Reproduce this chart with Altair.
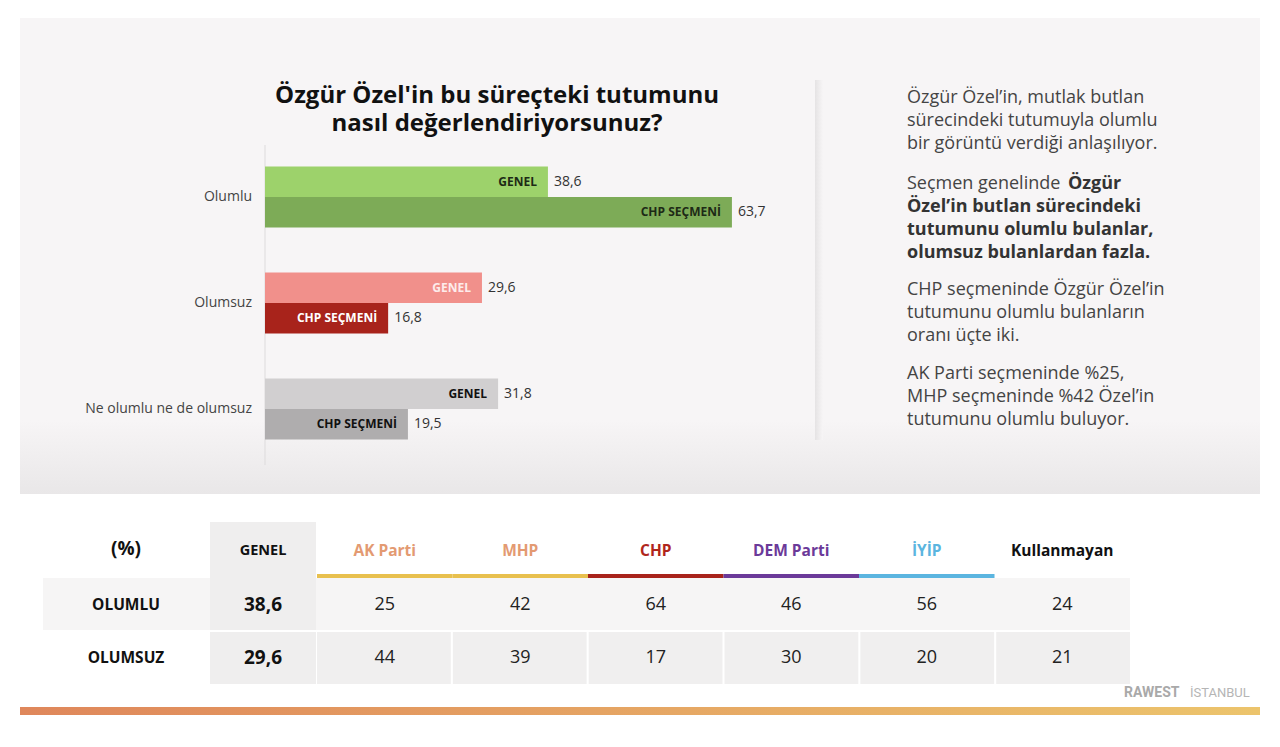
import altair as alt
import pandas as pd

# ---------------- data ----------------
categories = ["Olumlu", "Olumsuz", "Ne olumlu ne de olumsuz"]
series = ["GENEL", "CHP SEÇMENİ"]
genel_vals = [38.6, 29.6, 31.8]
chp_vals = [63.7, 16.8, 19.5]

parties = ["AK Parti", "MHP", "CHP", "DEM Parti", "İYİP", "Kullanmayan"]
table_rows = ["OLUMLU", "OLUMSUZ"]
genel_row = [38.6, 29.6]
olumlu_party = [25, 42, 64, 46, 56, 24]
olumsuz_party = [44, 39, 17, 30, 20, 21]

title_lines = ["Özgür Özel'in bu süreçteki tutumunu", "nasıl değerlendiriyorsunuz?"]
p1_lines = ["Özgür Özel’in, mutlak butlan", "sürecindeki tutumuyla olumlu", "bir görüntü verdiği anlaşılıyor."]
p2_first_regular = "Seçmen genelinde"
p2_first_bold = "Özgür"
p2_bold_lines = ["Özel’in butlan sürecindeki", "tutumunu olumlu bulanlar,", "olumsuz bulanlardan fazla."]
p3_lines = ["CHP seçmeninde Özgür Özel’in", "tutumunu olumlu bulanların", "oranı üçte iki."]
p4_lines = ["AK Parti seçmeninde %25,", "MHP seçmeninde %42 Özel’in", "tutumunu olumlu buluyor."]

FONT = "Open Sans"


def fmt(v):
    return f"{v:.1f}".replace(".", ",")


# ---------------- frames ----------------
bar_records = []
for c, g, h in zip(categories, genel_vals, chp_vals):
    bar_records.append(dict(cat=c, series=series[0], value=g))
    bar_records.append(dict(cat=c, series=series[1], value=h))
bars_df = pd.DataFrame(bar_records)
bars_df["key"] = bars_df["cat"] + "|" + bars_df["series"]
bars_df["label"] = bars_df["value"].map(fmt)
keys = list(bars_df["key"])

cat_df = pd.DataFrame({"cat": categories})

tab_records = []
for r, vals in zip(table_rows, [olumlu_party, olumsuz_party]):
    for p, v in zip(parties, vals):
        tab_records.append(dict(row=r, party=p, value=v, label=str(v)))
tab_df = pd.DataFrame(tab_records)
genel_df = pd.DataFrame({"row": table_rows, "value": genel_row})
genel_df["label"] = genel_df["value"].map(fmt)
party_df = pd.DataFrame({"party": parties})
one = pd.DataFrame({"a": [0]})

# ---------------- scales ----------------
X_BAR = alt.Scale(domain=[0, 100], range=[265, 998])
Y_BAR = alt.Scale(domain=categories, range=[144, 462], paddingInner=0, paddingOuter=0)
YOFF = alt.Scale(domain=series, paddingInner=0, paddingOuter=0.7377)
X_TAB = alt.Scale(domain=parties, range=[317, 1130], paddingInner=0, paddingOuter=0)
X_CELL = alt.Scale(domain=parties, range=[317, 1130], paddingInner=0.015, paddingOuter=0)
Y_TAB = alt.Scale(domain=table_rows, range=[578, 684], paddingInner=0.04, paddingOuter=0)

bar_colors = ["#9dd26b", "#7dab57", "#f1908b", "#a8231b", "#d1cfd0", "#afadae"]
inner_colors = ["#1d2a16", "#1d2a16", "#fdeceb", "#ffffff", "#111111", "#111111"]
party_text_colors = ["#e39a72", "#e39a72", "#b0261c", "#6b3a99", "#5bb5e0", "#111111"]
party_line_colors = ["#e8c04e", "#e8c04e", "#a8231b", "#6b3a99", "#5bb5e0", "#ffffff"]


def grad(c1, c2, horizontal=False):
    return alt.Gradient(
        gradient="linear",
        stops=[alt.GradientStop(color=c1, offset=0), alt.GradientStop(color=c2, offset=1)],
        x1=0, y1=0, x2=1 if horizontal else 0, y2=0 if horizontal else 1,
    )


def box(x, x2, y, y2, color):
    return alt.Chart(one).mark_rect(color=color).encode(
        x=alt.value(x), x2=alt.value(x2), y=alt.value(y), y2=alt.value(y2)
    )


def para(lines, x, y, size=18, weight="normal", color="#444444", lh=23, align="left"):
    df = pd.DataFrame({"t": ["\n".join(lines)]})
    return alt.Chart(df).mark_text(
        align=align, baseline="alphabetic", font=FONT, fontSize=size,
        fontWeight=weight, color=color, lineBreak="\n", lineHeight=lh,
    ).encode(x=alt.value(x), y=alt.value(y), text="t:N")


layers = []

# background panel
layers.append(box(20, 1260, 18, 494, "#f7f5f6"))
layers.append(box(20, 1260, 420, 494, grad("#f7f5f6", "#e9e7e8")))
# card shadow on right
layers.append(box(815, 823, 80, 440, grad("#e5e3e4", "#f7f5f6", horizontal=True)))
# axis line
layers.append(
    alt.Chart(one).mark_rule(color="#dddbdc", strokeWidth=1).encode(
        x=alt.value(265), y=alt.value(145), y2=alt.value(465)
    )
)

# title (two separate lines)
layers.append(para([title_lines[0]], 497, 103, size=24, weight="bold", color="#111111", align="center"))
layers.append(para([title_lines[1]], 497, 131, size=24, weight="bold", color="#111111", align="center"))

# bars
layers.append(
    alt.Chart(bars_df).mark_bar().encode(
        x=alt.X("value:Q", scale=X_BAR, axis=None),
        y=alt.Y("cat:N", scale=Y_BAR, axis=None),
        yOffset=alt.YOffset("series:N", scale=YOFF),
        color=alt.Color("key:N", scale=alt.Scale(domain=keys, range=bar_colors), legend=None),
    )
)
layers.append(
    alt.Chart(bars_df).mark_text(
        align="right", baseline="middle", dx=-11, font=FONT, fontSize=12, fontWeight="bold"
    ).encode(
        x=alt.X("value:Q", scale=X_BAR, axis=None),
        y=alt.Y("cat:N", scale=Y_BAR, axis=None),
        yOffset=alt.YOffset("series:N", scale=YOFF),
        text="series:N",
        color=alt.Color("key:N", scale=alt.Scale(domain=keys, range=inner_colors), legend=None),
    )
)
layers.append(
    alt.Chart(bars_df).mark_text(
        align="left", baseline="middle", dx=6, font=FONT, fontSize=14, color="#333333"
    ).encode(
        x=alt.X("value:Q", scale=X_BAR, axis=None),
        y=alt.Y("cat:N", scale=Y_BAR, axis=None),
        yOffset=alt.YOffset("series:N", scale=YOFF),
        text="label:N",
    )
)
layers.append(
    alt.Chart(cat_df).mark_text(
        align="right", baseline="middle", font=FONT, fontSize=14, color="#444444"
    ).encode(
        x=alt.value(252),
        y=alt.Y("cat:N", scale=Y_BAR, axis=None),
        text="cat:N",
    )
)

# right text panel
layers.append(para(p1_lines, 907, 103))
layers.append(para([p2_first_regular], 907, 189))
layers.append(para([p2_first_bold], 1068, 189, weight="bold", color="#333333"))
layers.append(para(p2_bold_lines, 907, 212, weight="bold", color="#333333"))
layers.append(para(p3_lines, 907, 295))
layers.append(para(p4_lines, 907, 379))

# ---------------- table ----------------
layers.append(
    alt.Chart(pd.DataFrame({"row": [table_rows[0]]})).mark_rect(color="#f6f5f5").encode(
        x=alt.value(43), x2=alt.value(1130),
        y=alt.Y("row:N", scale=Y_TAB, axis=None),
    )
)
layers.append(
    alt.Chart(tab_df[tab_df["row"] == table_rows[1]]).mark_rect(color="#f0efef").encode(
        x=alt.X("party:N", scale=X_CELL, axis=None),
        y=alt.Y("row:N", scale=Y_TAB, axis=None),
    )
)
# GENEL column background
layers.append(box(210, 316, 522, 580, "#efeeee"))
layers.append(
    alt.Chart(genel_df).mark_rect(color="#efeeee").encode(
        x=alt.value(210), x2=alt.value(316),
        y=alt.Y("row:N", scale=Y_TAB, axis=None),
    )
)
# party underlines
layers.append(
    alt.Chart(party_df).transform_filter(alt.datum.party != parties[-1]).mark_rect().encode(
        x=alt.X("party:N", scale=X_TAB, axis=None),
        y=alt.value(574), y2=alt.value(578),
        color=alt.Color("party:N", scale=alt.Scale(domain=parties, range=party_line_colors), legend=None),
    )
)
# headers
layers.append(
    alt.Chart(party_df).mark_text(
        align="center", baseline="middle", font=FONT, fontSize=15.5, fontWeight="bold"
    ).encode(
        x=alt.X("party:N", scale=X_TAB, axis=None),
        y=alt.value(551),
        text="party:N",
        color=alt.Color("party:N", scale=alt.Scale(domain=parties, range=party_text_colors), legend=None),
    )
)
layers.append(
    alt.Chart(pd.DataFrame({"t": ["GENEL"]})).mark_text(
        align="center", baseline="middle", font=FONT, fontSize=14.5, fontWeight="bold", color="#111111"
    ).encode(x=alt.value(263), y=alt.value(551), text="t:N")
)
layers.append(
    alt.Chart(pd.DataFrame({"t": ["(%)"]})).mark_text(
        align="center", baseline="middle", font=FONT, fontSize=19, fontWeight="bold", color="#111111"
    ).encode(x=alt.value(126), y=alt.value(549), text="t:N")
)
# row labels
layers.append(
    alt.Chart(pd.DataFrame({"row": table_rows})).mark_text(
        align="center", baseline="middle", font=FONT, fontSize=15.5, fontWeight="bold", color="#111111"
    ).encode(x=alt.value(126), y=alt.Y("row:N", scale=Y_TAB, axis=None), text="row:N")
)
# GENEL values
layers.append(
    alt.Chart(genel_df).mark_text(
        align="center", baseline="middle", font=FONT, fontSize=19, fontWeight="bold", color="#111111"
    ).encode(x=alt.value(263), y=alt.Y("row:N", scale=Y_TAB, axis=None), text="label:N")
)
# party values
layers.append(
    alt.Chart(tab_df).mark_text(
        align="center", baseline="middle", font=FONT, fontSize=18, color="#222222"
    ).encode(
        x=alt.X("party:N", scale=X_TAB, axis=None),
        y=alt.Y("row:N", scale=Y_TAB, axis=None),
        text="label:N",
    )
)

# logo text
layers.append(
    alt.Chart(pd.DataFrame({"t": ["RAWEST"]})).mark_text(
        align="left", baseline="alphabetic", font="Roboto", fontSize=14,
        fontWeight="bold", color="#a9a9a9"
    ).encode(x=alt.value(1124), y=alt.value(697), text="t:N")
)
layers.append(
    alt.Chart(pd.DataFrame({"t": ["İSTANBUL"]})).mark_text(
        align="left", baseline="alphabetic", font="Roboto", fontSize=13,
        color="#b5b5b5"
    ).encode(x=alt.value(1190), y=alt.value(697), text="t:N")
)

# bottom gradient bar
layers.append(box(20, 1260, 707, 715, grad("#df875b", "#ecc46c", horizontal=True)))

chart = (
    alt.layer(*layers)
    .resolve_scale(x="independent", y="independent", color="independent")
    .properties(width=1280, height=747, padding=0, autosize="none", background="#ffffff")
    .configure_view(stroke=None)
)

chart.save("out.html", embed_options={"renderer": "svg", "actions": False})
